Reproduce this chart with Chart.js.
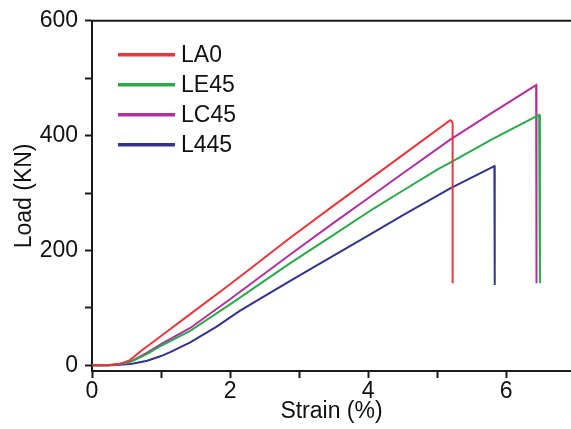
<!DOCTYPE html>
<html>
<head>
<meta charset="utf-8">
<script src="https://cdn.jsdelivr.net/npm/chart.js@4.4.1/dist/chart.umd.min.js"></script>
<style>
html,body{margin:0;padding:0;background:#fff;overflow:hidden;}
#wrap{width:571px;height:429px;position:relative;}
</style>
</head>
<body>
<div id="wrap"><canvas id="c" width="571" height="429"></canvas></div>
<script>
// ---- data ----
const seriesNames = ['LA0', 'LE45', 'LC45', 'L445'];
const seriesColors = ['#e8373c', '#2ca94b', '#b1309c', '#34348c'];

const strainLA0 = [0, 0.2, 0.4, 0.55, 0.7, 1.0, 1.423, 2.0, 2.293, 2.872, 3.5, 4.0, 4.5, 5.19, 5.205, 5.225, 5.225];
const loadLA0   = [0, 0, 2, 9, 24, 51, 89, 141, 168, 222, 278, 322, 366, 427, 426, 422, 143];

const strainLE45 = [0, 0.25, 0.5, 0.6, 0.8, 1.0, 1.423, 2.0, 2.486, 2.872, 3.5, 4.08, 4.5, 5.02, 5.19, 5.8, 6.478, 6.49, 6.49];
const loadLE45   = [0, 0, 4, 8, 20, 34, 60, 106, 146, 178, 227, 273, 304, 342, 353, 394, 436, 434, 143];

const strainLC45 = [0, 0.25, 0.5, 0.6, 0.8, 1.0, 1.423, 2.0, 2.872, 3.5, 4.0, 4.5, 5.19, 5.8, 6.435, 6.44, 6.44];
const loadLC45   = [0, 0, 4, 9, 22, 37, 65, 115, 193, 248, 291, 334, 393, 440, 488, 486, 143];

const strainL445 = [0, 0.3, 0.55, 0.6, 0.8, 1.0, 1.133, 1.423, 1.8, 2.146, 2.872, 3.5, 4.0, 4.5, 5.19, 5.83, 5.835, 5.835];
const loadL445   = [0, 0, 2, 3, 8, 16, 23, 40, 67, 95, 147, 191, 226, 261, 308, 347, 345, 140];

const xTicks = [0, 1, 2, 3, 4, 5, 6];
const xLabeled = [0, 2, 4, 6];
const yTicks = [0, 100, 200, 300, 400, 500, 600];
const yLabeled = [0, 200, 400, 600];

const xTitle = 'Strain (%)';
const yTitle = 'Load (KN)';

// ---- build chart ----
const strains = [strainLA0, strainLE45, strainLC45, strainL445];
const loads = [loadLA0, loadLE45, loadLC45, loadL445];

const datasets = seriesNames.map((name, i) => ({
  label: name,
  data: strains[i].map((s, k) => ({x: s, y: loads[i][k]})),
  borderColor: seriesColors[i],
  backgroundColor: seriesColors[i],
  borderWidth: 2,
  pointRadius: 0,
  tension: 0,
  fill: false
}));

const FONT = 'Liberation Sans, Arial, sans-serif';
const AXIS = '#1a1a1a';

const framePlugin = {
  id: 'frame',
  afterDraw(chart) {
    const ctx = chart.ctx;
    const a = chart.chartArea;
    ctx.save();
    // top frame line
    ctx.strokeStyle = AXIS;
    ctx.lineWidth = 2;
    ctx.beginPath();
    ctx.moveTo(a.left - 1, a.top);
    ctx.lineTo(a.right + 2, a.top);
    ctx.stroke();
    // legend inside the plot
    ctx.font = '23px ' + FONT;
    ctx.textBaseline = 'middle';
    ctx.textAlign = 'left';
    chart.data.datasets.forEach((ds, i) => {
      const y = a.top + 34 + i * 30;
      ctx.strokeStyle = ds.borderColor;
      ctx.lineWidth = 3.5;
      ctx.beginPath();
      ctx.moveTo(a.left + 26, y);
      ctx.lineTo(a.left + 83, y);
      ctx.stroke();
      ctx.fillStyle = '#111';
      ctx.fillText(ds.label, a.left + 89, y + 1);
    });
    ctx.restore();
  }
};

new Chart(document.getElementById('c'), {
  type: 'line',
  data: { datasets },
  options: {
    responsive: false,
    animation: false,
    layout: { padding: { top: 19, right: 0, bottom: 0, left: 0 } },
    plugins: { legend: { display: false }, tooltip: { enabled: false } },
    scales: {
      x: {
        type: 'linear',
        min: 0,
        max: 6.94,
        afterBuildTicks: s => { s.ticks = xTicks.map(v => ({value: v})); },
        afterFit: s => { s.height = 58; },
        ticks: {
          callback: v => xLabeled.includes(v) ? String(v) : '',
          font: { family: FONT, size: 23 },
          color: '#111',
          padding: 0,
          maxRotation: 0,
          autoSkip: false
        },
        grid: { drawOnChartArea: false, drawTicks: true, tickLength: 7, tickWidth: 2, tickColor: AXIS },
        border: { display: true, color: AXIS, width: 2 },
        title: { display: true, text: xTitle, font: { family: FONT, size: 23 }, color: '#111', padding: { top: 0, bottom: 4 } }
      },
      y: {
        type: 'linear',
        min: -10,
        max: 600,
        afterBuildTicks: s => { s.ticks = yTicks.map(v => ({value: v})); },
        afterFit: s => { s.width = 92; },
        ticks: {
          callback: v => yLabeled.includes(v) ? String(v) : '',
          font: { family: FONT, size: 23 },
          color: '#111',
          padding: 7,
          autoSkip: false
        },
        grid: { drawOnChartArea: false, drawTicks: true, tickLength: 7, tickWidth: 2, tickColor: AXIS },
        border: { display: true, color: AXIS, width: 2 },
        title: { display: true, text: yTitle, font: { family: FONT, size: 23 }, color: '#111', padding: { top: 11, bottom: 0 } }
      }
    }
  },
  plugins: [framePlugin]
});
</script>
</body>
</html>
